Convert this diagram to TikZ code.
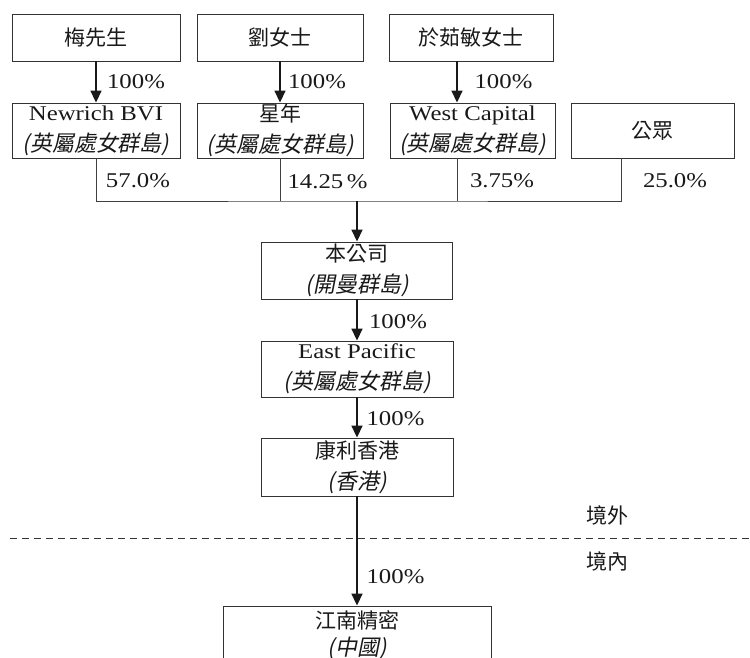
\documentclass[tikz,border=0pt]{standalone}
\usepackage{fontspec}
\setmainfont{Liberation Serif}[FakeStretch=1.18]
\newfontfamily\cjk{Noto Sans CJK TC}
\newfontfamily\cjkit{Noto Sans CJK TC}[FakeSlant=0.2]
\newcommand\cjkline[1]{{\fontsize{22}{31}\cjkit #1}}
\usetikzlibrary{arrows.meta}

\begin{document}
\begin{tikzpicture}[x=1pt, y=-1pt, font=\fontsize{21}{31}\selectfont]

  \tikzstyle{entity} = [draw=black!80, line width=0.9, inner sep=0, align=center, text=black!90]
  \tikzstyle{share} = [-{Triangle[width=11pt, length=12pt]}, line width=1.7, black!90]
  \tikzstyle{link} = [draw=black!75, line width=0.9]
  \tikzstyle{pct} = [text=black!90, inner sep=0]

  \useasboundingbox (0,0) rectangle (750,658);
  \clip (0,0) rectangle (750,658);

  % shareholders
  \node[entity, minimum width=168, minimum height=47] (mei) at (96,37.5) {\cjk 梅先生};
  \node[entity, minimum width=166, minimum height=47] (liu) at (280,37.5) {\cjk 劉女士};
  \node[entity, minimum width=164, minimum height=47] (yu) at (471,37.5) {\cjk 於茹敏女士};

  % holding companies
  \node[entity, minimum width=168, minimum height=55] (nr) at (96,130.5) {Newrich BVI\\\cjkline{(英屬處女群島)}};
  \node[entity, minimum width=166, minimum height=55] (xing) at (280,130.5) {\cjk 星年\\\cjkline{(英屬處女群島)}};
  \node[entity, minimum width=165, minimum height=55] (wc) at (472.5,130.5) {West Capital\\\cjkline{(英屬處女群島)}};
  \node[entity, minimum width=163, minimum height=55] (pub) at (652.5,130.5) {\cjk 公眾};

  \coordinate (wcx) at (457,0);
  \coordinate (pubx) at (621,0);
  \coordinate (bus) at (357,201);

  \draw[share] (mei) -- (nr);
  \draw[share] (liu) -- (xing);
  \draw[share] (yu.south -| wcx) -- (wc.north -| wcx);
  \node[pct] (p1) at (136,82) {100\%};
  \node[pct] (p2) at (317,82) {100\%};
  \node[pct] (p3) at (503.5,82) {100\%};

  % bus to the company
  \draw[link] (nr.south) |- (bus) -| (pub.south -| pubx);
  \draw[link] (xing.south) -- (xing.south |- bus);
  \draw[link] (wc.south -| wcx) -- (wcx |- bus);
  \node[pct] (s1) at (138,181) {57.0\%};
  \node[pct] (s2) at (327.5,182) {14.25\,\%};
  \node[pct] (s3) at (502,181) {3.75\%};
  \node[pct] (s4) at (675,181) {25.0\%};

  % group chain
  \node[entity, minimum width=191, minimum height=57] (co) at (357,270.5) {\cjk 本公司\\\cjkline{(開曼群島)}};
  \node[entity, minimum width=192, minimum height=56] (ep) at (357,369) {East Pacific\\\cjkline{(英屬處女群島)}};
  \node[entity, minimum width=192, minimum height=58] (hk) at (357,467) {\cjk 康利香港\\\cjkline{(香港)}};
  \node[entity, minimum width=268, minimum height=58, font=\fontsize{21}{27}\selectfont] (jn) at (357,635) {\cjk 江南精密\\{\fontsize{22}{27}\cjkit (中國)}};

  \draw[share] (bus) -- (co);
  \draw[share] (co) -- (ep);
  \draw[share] (ep) -- (hk);
  \draw[share] (hk) -- (jn);
  \node[pct] (p4) at (398,322) {100\%};
  \node[pct] (p5) at (395.5,419) {100\%};
  \node[pct] (p6) at (395.5,577) {100\%};

  % border line
  \draw[black!80, line width=0.8, dash pattern=on 7pt off 5pt] (10,538) -- (750,538);
  \node[pct] (out) at (607,515) {\cjk 境外};
  \node[pct] (in) at (607,561) {\cjk 境內};

\end{tikzpicture}
\end{document}
